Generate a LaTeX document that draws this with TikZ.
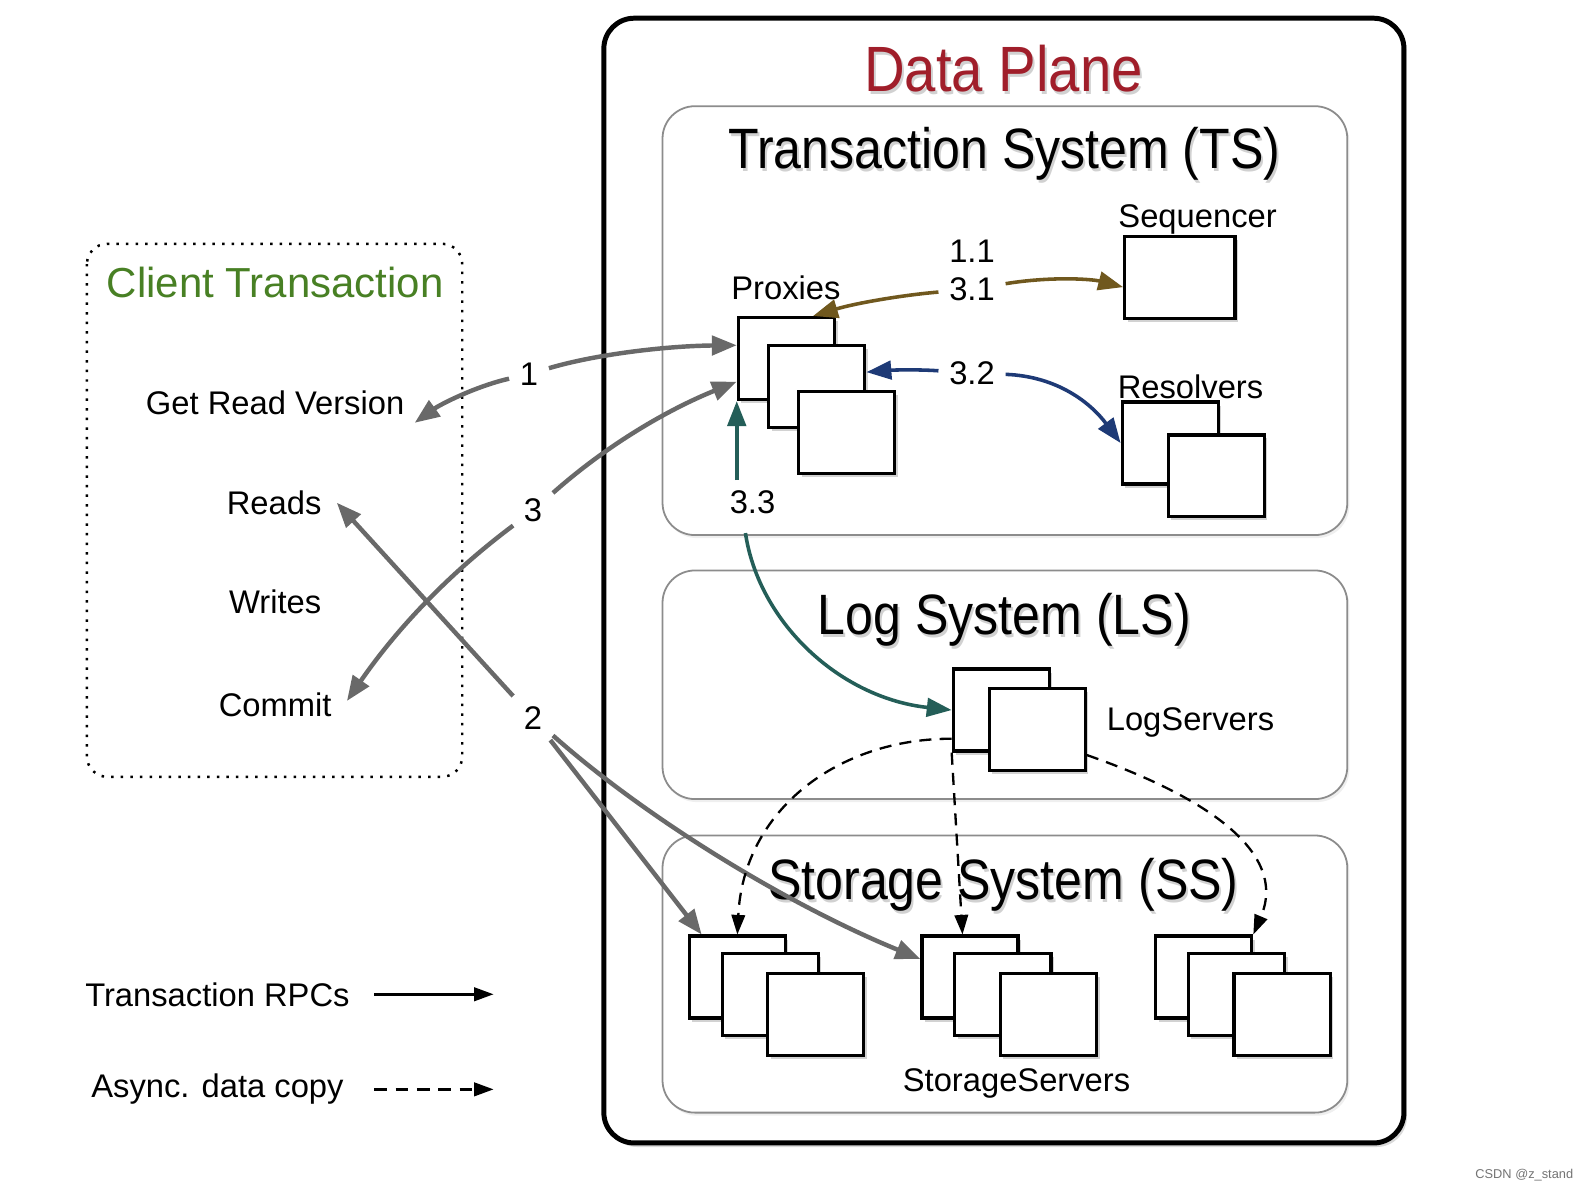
\documentclass[tikz,border=0pt]{standalone}
\usepackage{fontspec}
\setmainfont{Liberation Sans}
\newfontfamily\titrefont[FakeStretch=0.88]{Liberation Sans}
\usetikzlibrary{arrows.meta,shadows}

\definecolor{rougeDP}{RGB}{160,30,42}
\definecolor{vertCT}{RGB}{72,128,36}
\definecolor{grisfl}{RGB}{105,105,105}
\definecolor{brunfl}{RGB}{112,88,30}
\definecolor{bleufl}{RGB}{30,58,118}
\definecolor{sarcfl}{RGB}{36,94,88}

\tikzset{
  serveur/.style={draw, line width=0.9pt, fill=white, inner sep=0pt,
    minimum width=0.95cm, minimum height=0.81cm,
    drop shadow={shadow xshift=0.03cm, shadow yshift=-0.035cm, opacity=0.35}},
  systeme/.style={draw=black!45, line width=0.5pt, fill=white, rounded corners=0.32cm,
    drop shadow={shadow xshift=0.02cm, shadow yshift=-0.03cm, opacity=0.12}},
  etiq/.style={anchor=base, font=\fontsize{9.2}{11}\selectfont, inner sep=1pt},
  numero/.style={etiq, inner sep=0.1cm},
  titre/.style={anchor=base, font=\titrefont\fontsize{16}{19}\selectfont},
  ombre/.style={text=black, opacity=0.18},
  flgris/.style={draw=grisfl, line width=1.25pt, -{Triangle[length=7pt,width=5.4pt]}},
  flbrun/.style={draw=brunfl, line width=1pt, -{Triangle[length=7pt,width=5.2pt]}},
  flbleu/.style={draw=bleufl, line width=1pt, -{Triangle[length=7pt,width=5.2pt]}},
  flsarc/.style={draw=sarcfl, line width=1pt, -{Triangle[length=7pt,width=5.2pt]}},
  copie/.style={line width=0.65pt, dash pattern=on 3.4pt off 2.3pt, -{Triangle[length=5.5pt,width=3.8pt]}},
  legplein/.style={line width=0.75pt, -{Triangle[length=5.5pt,width=3.8pt]}},
  legtiret/.style={legplein, dash pattern=on 3.6pt off 2.4pt}
}

\begin{document}
\begin{tikzpicture}[x=0.01cm, y=-0.01cm]
\useasboundingbox (0,0) rectangle (1568,1176);

% Cote client (pointille)
\draw[dotted, line width=0.7pt, rounded corners=0.2cm] (86,241) rectangle (457,768);
\node[anchor=base, text=vertCT, font=\fontsize{11.8}{14}\selectfont] (client) at (272,294) {Client Transaction};
\node[etiq] (grv) at (272,410) {Get Read Version};
\node[etiq] (reads) at (271,509) {Reads};
\node[etiq] (writes) at (272,607) {Writes};
\node[etiq] (commit) at (272,708) {Commit};

% Cadre Data Plane
\draw[line width=1.4pt, fill=white, rounded corners=0.3cm,
  drop shadow={shadow xshift=0.03cm, shadow yshift=-0.04cm, opacity=0.3}] (597,18) rectangle (1388,1130);
\node[titre, ombre, font=\titrefont\fontsize{18}{21}\selectfont] (dpombre) at (994,93) {Data Plane};
\node[titre, text=rougeDP, font=\titrefont\fontsize{18}{21}\selectfont] (dp) at (992,90) {Data Plane};

% Les trois systemes
\draw[systeme] (655,105) rectangle (1332,529);
\draw[systeme] (655,564) rectangle (1332,790);
\draw[systeme] (655,826) rectangle (1332,1100);

\node[titre, ombre] (tsombre) at (995,170) {Transaction System (TS)};
\node[titre] (ts) at (993,167) {Transaction System (TS)};
\node[titre, ombre] (lsombre) at (995,630) {Log System (LS)};
\node[titre] (ls) at (993,627) {Log System (LS)};
\node[titre, ombre] (ssombre) at (994,892) {Storage System (SS)};
\node[titre] (ss) at (992,889) {Storage System (SS)};

% Serveurs
\node[serveur] (p1) at (777.5,354.5) {};
\node[serveur] (p2) at (807.5,382) {};
\node[serveur] (p3) at (837,427.5) {};
\node[etiq] (proxies) at (777,296) {Proxies};

\node[serveur, minimum width=1.09cm] (seq) at (1166.5,274) {};
\node[etiq] (sequencer) at (1184,225) {Sequencer};

\node[serveur] (r1) at (1157,438) {};
\node[serveur] (r2) at (1202.5,470.5) {};
\node[etiq] (resolvers) at (1177,394) {Resolvers};

\node[serveur] (l1) at (990,702) {};
\node[serveur] (l2) at (1025.5,721.5) {};
\node[etiq] (logservers) at (1177,722) {LogServers};

\foreach \d/\n in {0/1,230/2,461/3}{
  \node[serveur] (sa\n) at (729+\d,966) {};
  \node[serveur] (sb\n) at (761.5+\d,983.5) {};
  \node[serveur] (sc\n) at (806.5+\d,1003) {};
}
\node[etiq] (storageservers) at (1005,1079) {StorageServers};

% Numeros des etapes
\node[numero] (un) at (523,381) {1};
\node[numero] (deux) at (527,721) {2};
\node[numero] (trois) at (527,516) {3};
\node[etiq] (onze) at (961,260) {1.1};
\node[numero] (tun) at (961,297) {3.1};
\node[numero] (tdeux) at (961,380) {3.2};
\node[numero] (ttrois) at (744,508) {3.3};

% Points d'arrivee cote client
\coordinate (grvpt) at (410,418);
\coordinate (readspt) at (333,497);
\coordinate (commitpt) at (343,693);

% Fleches RPC
\draw[flgris] (un) .. controls (470,382) and (435,400) .. (grvpt);
\draw[flgris] (un) .. controls (590,350) and (660,342) .. (p1.165);
\draw[flgris] (trois) .. controls (600,440) and (660,405) .. (p1.205);
\draw[flgris] (trois) .. controls (440,570) and (390,625) .. (commitpt);
\draw[flgris] (deux) -- (readspt);
\draw[flgris] (deux) -- (sa1.130);
\draw[flgris] (deux) .. controls (640,810) and (780,895) .. (sa2.160);

\draw[flbrun] (tun) .. controls (890,292) and (845,300) .. (p1.58);
\draw[flbrun] (tun) .. controls (1040,273) and (1080,276) .. (seq.190);
\draw[flbleu] (tdeux) .. controls (905,365) and (880,366) .. (p2.16);
\draw[flbleu] (tdeux) .. controls (1045,372) and (1078,398) .. (r1.west);
\draw[flsarc] (p1.south west |- ttrois.north) -- (p1.south west);
\draw[flsarc] (ttrois.south) ++(-0.07cm,-0.08cm) .. controls (750,615) and (830,690) .. (l1.west);

% Copie asynchrone (tirets)
\draw[copie] (l1.210) .. controls (830,730) and (735,800) .. (sa1.north);
\draw[copie] (l1.south west) -- (sa2.100);
\draw[copie] (l2.333) .. controls (1185,785) and (1275,840) .. (sa3.north east);

% Legende
\node[etiq] (rpc) at (215,995) {Transaction RPCs};
\node[etiq] (async) at (215,1085) {Async. data copy};
\coordinate (rpcdeb) at (370,983);
\coordinate (rpcfin) at (488,983);
\coordinate (asdeb) at (370,1077);
\coordinate (asfin) at (488,1077);
\draw[legplein] (rpcdeb) -- (rpcfin);
\draw[legtiret] (asdeb) -- (asfin);

\node[anchor=base, text=black!55, font=\fontsize{3.6}{4}\selectfont] (marque) at (1507,1165) {CSDN @z\_stand};
\end{tikzpicture}
\end{document}
